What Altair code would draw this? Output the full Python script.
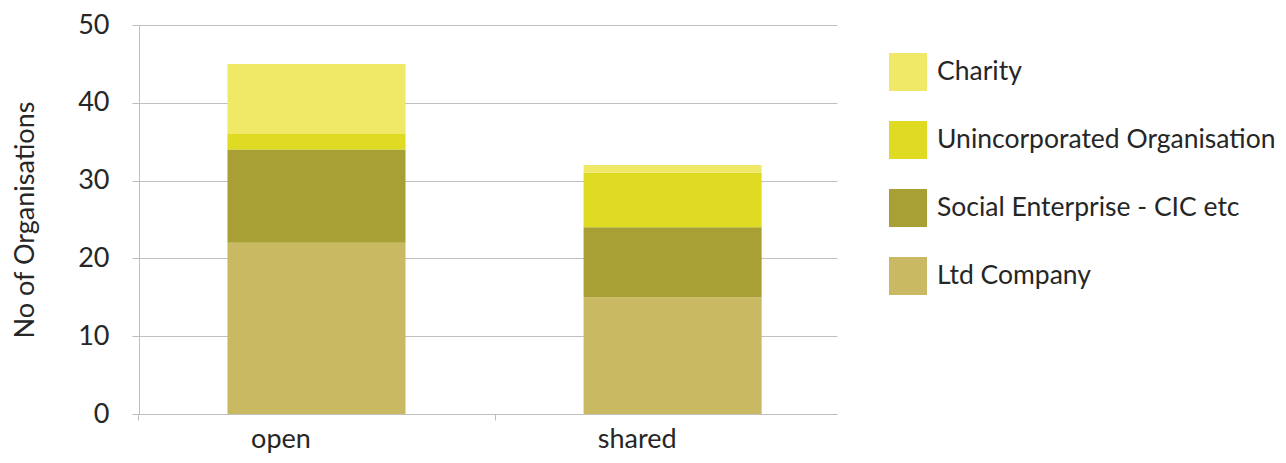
import altair as alt
import pandas as pd

categories = ["open", "shared"]
types = ["Ltd Company", "Social Enterprise - CIC etc", "Unincorporated Organisation", "Charity"]
ltd = [22, 15]
social = [12, 9]
unincorp = [2, 7]
charity = [9, 1]
colors = ["#c9b962", "#a8a035", "#dedb22", "#f0e968"]
y_ticks = [0, 10, 20, 30, 40, 50]

rows = []
for t_i, (t, vals) in enumerate(zip(types, [ltd, social, unincorp, charity])):
    for c, v in zip(categories, vals):
        rows.append({"category": c, "type": t, "count": v, "stack": t_i})
df = pd.DataFrame(rows)

legend_order = types[::-1]
color_range = colors[::-1]

FONT = "Lato"
TXT = "#262626"
GRID = "#bfbfbf"

chart = alt.Chart(df).mark_bar().encode(
    x=alt.X(
        "category:N", sort=categories, title=None,
        scale=alt.Scale(paddingInner=0.5, paddingOuter=0.23, align=0.54),
        axis=alt.Axis(labelAngle=0, tickOffset=-178, labelOffset=142, labelPadding=6,
                      tickSize=6, tickColor=GRID, domainColor=GRID, grid=False,
                      labelFont=FONT, labelFontSize=27, labelColor=TXT),
    ),
    y=alt.Y(
        "count:Q", scale=alt.Scale(domain=[0, 50]),
        axis=alt.Axis(values=y_ticks, title="No of Organisations", grid=True, gridColor=GRID,
                      tickSize=7, tickColor=GRID, domainColor=GRID, labelPadding=23,
                      labelFont=FONT, labelFontSize=27, labelColor=TXT,
                      titleFont=FONT, titleFontSize=27, titleFontWeight="normal",
                      titleColor=TXT, titlePadding=38),
    ),
    color=alt.Color(
        "type:N", scale=alt.Scale(domain=legend_order, range=color_range),
        legend=alt.Legend(orient="none", legendX=750, legendY=28, title=None,
                          symbolType="square", symbolSize=1444, symbolStrokeWidth=0,
                          symbolOpacity=1, labelFont=FONT, labelFontSize=26.5,
                          labelColor=TXT, labelOffset=10, rowPadding=30, padding=0,
                          labelLimit=0),
    ),
    order=alt.Order("stack:Q", sort="ascending"),
).properties(
    width=698, height=389,
    autosize=alt.AutoSizeParams(type="none"),
    padding={"left": 131, "top": 17, "right": 441, "bottom": 41},
).configure_view(stroke=None)

chart.save("out.html", embed_options={"renderer": "svg", "actions": False})
